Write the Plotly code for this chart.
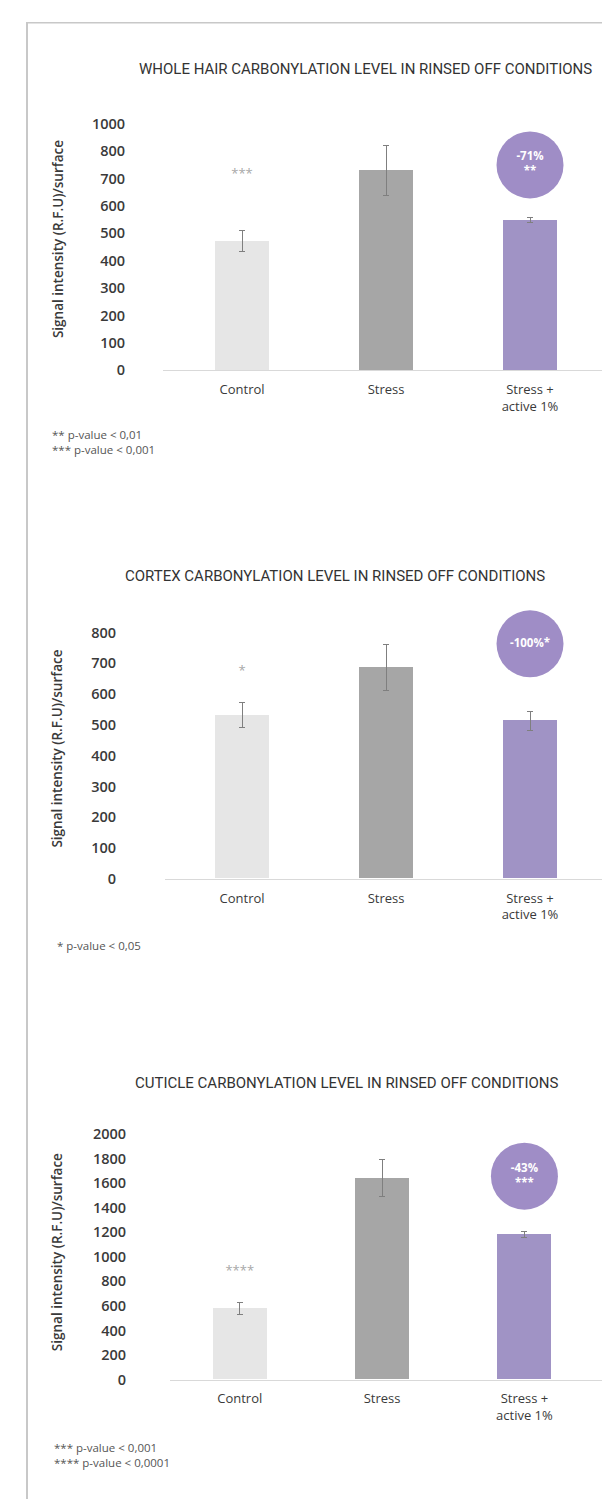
import plotly.graph_objects as go

W, H = 602, 1508

# ---------------- data ----------------
categories = ["Control", "Stress", "Stress +<br>active 1%"]

whole_values = [472, 729, 549]
whole_err = [37, 90, 10]
whole_ticks = [0, 100, 200, 300, 400, 500, 600, 700, 800, 900]
whole_ticktext = ["0", "100", "200", "300", "400", "500", "600", "700", "800", "1000"]

cortex_values = [532, 685, 513]
cortex_err = [40, 75, 32]
cortex_ticks = [0, 100, 200, 300, 400, 500, 600, 700, 800]
cortex_ticktext = [str(v) for v in cortex_ticks]

cuticle_values = [580, 1640, 1185]
cuticle_err = [50, 150, 25]
cuticle_ticks = [0, 200, 400, 600, 800, 1000, 1200, 1400, 1600, 1800, 2000]
cuticle_ticktext = [str(v) for v in cuticle_ticks]

titles = [
    "WHOLE HAIR CARBONYLATION LEVEL IN RINSED OFF CONDITIONS",
    "CORTEX CARBONYLATION LEVEL IN RINSED OFF CONDITIONS",
    "CUTICLE CARBONYLATION LEVEL IN RINSED OFF CONDITIONS",
]
control_stars = ["***", "*", "****"]
badge_texts = ["-71%<br>**", "-100%*", "-43%<br>***"]
footnotes = [
    ["** p-value < 0,01", "*** p-value < 0,001"],
    ["* p-value < 0,05"],
    ["*** p-value < 0,001", "**** p-value < 0,0001"],
]
y_title = "Signal intensity (R.F.U)/surface"

bar_colors = ["#e6e6e6", "#a6a6a6", "#a093c5"]
badge_color = "#9f8dc6"

# ---------------- layout helpers (pixel -> paper) ----------------
def pxx(x):
    return x / W

def pxy(y):
    return 1 - y / H

panels = [
    dict(values=whole_values, err=whole_err, ticks=whole_ticks, ticktext=whole_ticktext,
         yrange=[0, 1000], ydom=(365, 365 - 277.5), xdom=(163, 602), xrange=[-0.549, 2.5],
         title_xy=(365, 60), star_y=714, badge_y=750, ytitle_xy=(58, 232),
         foot_xy=(50, 430), ticklen_y=34),
    dict(values=cortex_values, err=cortex_err, ticks=cortex_ticks, ticktext=cortex_ticktext,
         yrange=[0, 800], ydom=(880, 880 - 249.6), xdom=(165, 602), xrange=[-0.535, 2.5],
         title_xy=(335, 573), star_y=673, badge_y=763, ytitle_xy=(57, 748),
         foot_xy=(55, 947), ticklen_y=45),
    dict(values=cuticle_values, err=cuticle_err, ticks=cuticle_ticks, ticktext=cuticle_ticktext,
         yrange=[0, 2000], ydom=(1387, 1387 - 248.6), xdom=(170, 602), xrange=[-0.49, 2.545],
         title_xy=(347, 1087), star_y=877, badge_y=1657, ytitle_xy=(57, 1258),
         foot_xy=(52, 1456), ticklen_y=40),
]

ytick_font = dict(family="Open Sans", size=14.5, color="#3a3a3a", weight=600)
xtick_font = dict(family="Open Sans", size=13, color="#3a3a3a", weight=400)

fig = go.Figure()
annotations = []
layout_axes = {}

for i, p in enumerate(panels, start=1):
    xa = "x" if i == 1 else f"x{i}"
    ya = "y" if i == 1 else f"y{i}"
    fig.add_trace(go.Bar(
        x=categories, y=p["values"], xaxis=xa, yaxis=ya,
        marker=dict(color=bar_colors, line=dict(width=0)),
        width=0.38,
        error_y=dict(type="data", array=p["err"], color="#7f7f7f", thickness=1, width=3),
        showlegend=False, hoverinfo="skip",
    ))
    # control significance stars
    fig.add_trace(go.Scatter(
        x=[categories[0]], y=[p["star_y"]], xaxis=xa, yaxis=ya, mode="text",
        text=[control_stars[i - 1]], textposition="middle center",
        textfont=dict(family="Open Sans", size=13, color="#a8a8a8"),
        showlegend=False, hoverinfo="skip", cliponaxis=False,
    ))
    # reduction badge
    fig.add_trace(go.Scatter(
        x=[categories[2]], y=[p["badge_y"]], xaxis=xa, yaxis=ya, mode="markers+text",
        marker=dict(size=67, color=badge_color, line=dict(width=0)),
        text=[badge_texts[i - 1]], textposition="middle center",
        textfont=dict(family="Open Sans", size=11.5, color="white", weight=700),
        showlegend=False, hoverinfo="skip", cliponaxis=False,
    ))

    xkey = "xaxis" if i == 1 else f"xaxis{i}"
    ykey = "yaxis" if i == 1 else f"yaxis{i}"
    layout_axes[xkey] = dict(
        domain=[pxx(p["xdom"][0]), pxx(p["xdom"][1])], range=p["xrange"],
        anchor=ya, showline=True, linecolor="#d9d9d9", linewidth=1,
        showgrid=False, zeroline=False, ticks="outside", ticklen=7,
        tickcolor="rgba(0,0,0,0)", tickfont=xtick_font, fixedrange=True,
    )
    layout_axes[ykey] = dict(
        domain=[pxy(p["ydom"][0]), pxy(p["ydom"][1])], range=p["yrange"],
        anchor=xa, showline=False, showgrid=False, zeroline=False,
        tickvals=p["ticks"], ticktext=p["ticktext"], ticks="outside",
        ticklen=p["ticklen_y"], tickcolor="rgba(0,0,0,0)", tickfont=ytick_font,
        fixedrange=True,
    )

    tx, ty = p["title_xy"]
    annotations.append(dict(
        text=titles[i - 1], x=pxx(tx), y=pxy(ty), xref="paper", yref="paper",
        xanchor="center", yanchor="middle", showarrow=False,
        font=dict(family="Roboto", size=15, color="#333333", weight=400),
    ))
    yx, yy = p["ytitle_xy"]
    annotations.append(dict(
        text=y_title, x=pxx(yx), y=pxy(yy), xref="paper", yref="paper",
        xanchor="center", yanchor="middle", showarrow=False, textangle=-90,
        font=dict(family="Open Sans", size=13.5, color="#3a3a3a", weight=600),
    ))
    fx, fy = p["foot_xy"]
    for k, line in enumerate(footnotes[i - 1]):
        annotations.append(dict(
            text=line, x=pxx(fx), y=pxy(fy + 15 * k), xref="paper", yref="paper",
            xanchor="left", yanchor="middle", showarrow=False,
            font=dict(family="Open Sans", size=11.5, color="#555555"),
        ))

shapes = [
    dict(type="line", xref="paper", yref="paper", x0=pxx(27), x1=pxx(27),
         y0=pxy(13), y1=0, line=dict(color="#c8c8c8", width=2)),
    dict(type="line", xref="paper", yref="paper", x0=pxx(26), x1=1,
         y0=pxy(13), y1=pxy(13), line=dict(color="#c8c8c8", width=1.5)),
]

fig.update_layout(
    width=W, height=H, margin=dict(l=0, r=0, t=0, b=0),
    paper_bgcolor="white", plot_bgcolor="white",
    annotations=annotations, shapes=shapes, bargap=0, **layout_axes,
)

fig.write_html(
    "out.html",
    config=dict(displayModeBar=False),
    post_script="document.body.style.margin='0';document.body.style.overflow='hidden';",
)
